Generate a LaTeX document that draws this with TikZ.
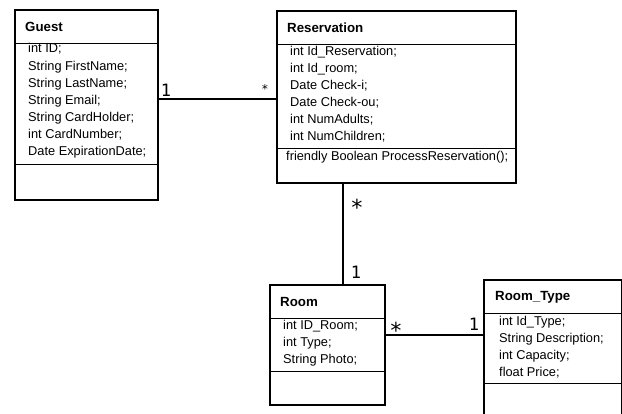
\documentclass[tikz,border=0pt]{standalone}
\usepackage{fontspec}
\setmainfont{Liberation Sans}
\newfontfamily\labfont{DejaVu Sans Mono}
\begin{document}
\begin{tikzpicture}[x=1pt,y=-1pt,
  classbox/.style={draw=black,line width=1.8pt,rectangle,inner sep=0pt,anchor=north west},
  sep/.style={draw=black,line width=0.9pt},
  conn/.style={draw=black,line width=1.8pt},
  attr/.style={anchor=west,inner sep=0pt,font=\fontsize{12.8}{13}\selectfont},
  title/.style={anchor=west,inner sep=0pt,font=\fontsize{13.3}{14}\selectfont\bfseries},
  mult/.style={inner sep=0pt,font=\labfont\fontsize{17}{18}\selectfont},
  bigstar/.style={inner sep=0pt,font=\labfont\fontsize{22}{23}\selectfont},
  smult/.style={inner sep=0pt,font=\labfont\fontsize{12}{13}\selectfont}]
\useasboundingbox (0,0) rectangle (622,414);
\fill[white] (0,0) rectangle (622,414);

% Guest
\node[classbox,minimum width=143pt,minimum height=190pt] (guest) at (14,9) {};
\draw[sep] (14,43) -- (157,43);
\draw[sep] (14,164) -- (157,164);
\node[title] (gt) at (25,27) {Guest};
\node[attr] (g1) at (28,49) {int ID;};
\node[attr] (g2) at (28,67) {String FirstName;};
\node[attr] (g3) at (28,84) {String LastName;};
\node[attr] (g4) at (28,101) {String Email;};
\node[attr] (g5) at (28,118) {String CardHolder;};
\node[attr] (g6) at (28,135) {int CardNumber;};
\node[attr] (g7) at (28,152) {Date ExpirationDate;};

% Reservation
\node[classbox,minimum width=239pt,minimum height=172pt] (res) at (276,10) {};
\draw[sep] (276,44) -- (515,44);
\draw[sep] (276,148) -- (515,148);
\node[title] (rt) at (287,28) {Reservation};
\node[attr] (r1) at (290,52) {int Id\_Reservation;};
\node[attr] (r2) at (290,69) {int Id\_room;};
\node[attr] (r3) at (290,86) {Date Check-i;};
\node[attr] (r4) at (290,103) {Date Check-ou;};
\node[attr] (r5) at (290,120) {int NumAdults;};
\node[attr] (r6) at (290,137) {int NumChildren;};
\node[attr] (r7) at (286,157) {friendly Boolean ProcessReservation();};

% Room
\node[classbox,minimum width=115pt,minimum height=120pt] (room) at (269,284) {};
\draw[sep] (269,318) -- (384,318);
\draw[sep] (269,371) -- (384,371);
\node[title] (mt) at (280,302) {Room};
\node[attr] (m1) at (283,326) {int ID\_Room;};
\node[attr] (m2) at (283,343) {int Type;};
\node[attr] (m3) at (283,360) {String Photo;};

% Room_Type
\node[classbox,minimum width=138pt,minimum height=140pt] (rtype) at (483,279) {};
\draw[sep] (483,313) -- (621,313);
\draw[sep] (483,383) -- (621,383);
\node[title] (tt) at (495,297) {Room\_Type};
\node[attr] (t1) at (499,322) {int Id\_Type;};
\node[attr] (t2) at (499,339) {String Description;};
\node[attr] (t3) at (499,356) {int Capacity;};
\node[attr] (t4) at (499,373) {float Price;};

% connectors
\coordinate (h1) at (0,99);
\coordinate (v1) at (343,0);
\coordinate (h2) at (0,335);
\draw[conn] (guest.east |- h1) -- (res.west |- h1);
\draw[conn] (res.south -| v1) -- (room.north -| v1);
\draw[conn] (room.east |- h2) -- (rtype.west |- h2);

% multiplicities
\node[mult] (m1a) at (166,90) {1};
\node[smult] (m1b) at (265,89) {*};
\node[bigstar] (m2a) at (357,207) {*};
\node[mult] (m2b) at (356,272) {1};
\node[bigstar] (m3a) at (396,330) {*};
\node[mult] (m3b) at (474,324) {1};
\end{tikzpicture}
\end{document}
